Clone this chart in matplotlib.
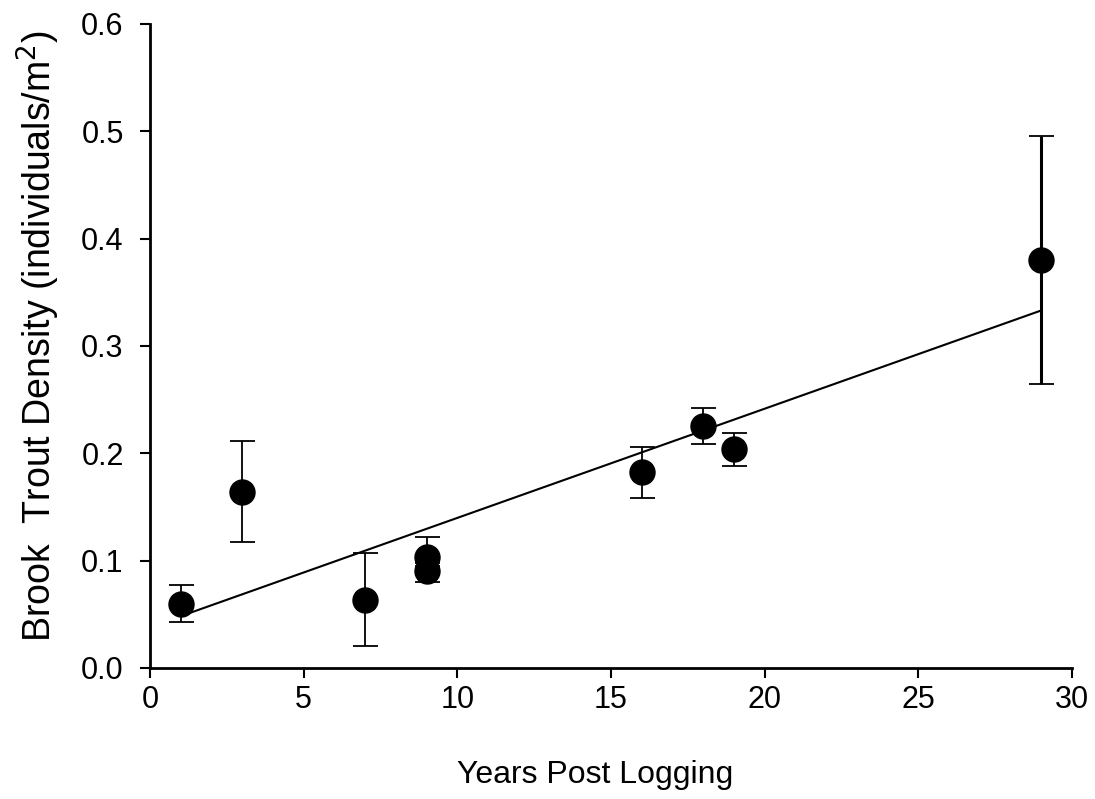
import numpy as np
import matplotlib.pyplot as plt

plt.rcParams['font.family'] = ['Liberation Sans', 'DejaVu Sans']

# Brook trout density vs years since logging
years = np.array([1, 3, 7, 9, 9, 16, 18, 19, 29])
density = np.array([0.060, 0.164, 0.063, 0.103, 0.090, 0.183, 0.225, 0.204, 0.380])
err_upper = np.array([0.077, 0.211, 0.107, 0.122, 0.098, 0.206, 0.242, 0.219, 0.496])
err_lower = np.array([0.043, 0.117, 0.020, 0.095, 0.080, 0.158, 0.209, 0.188, 0.265])

x_ticks = [0, 5, 10, 15, 20, 25, 30]
y_ticks = [0.0, 0.1, 0.2, 0.3, 0.4, 0.5, 0.6]

fig = plt.figure(figsize=(10.95, 7.99), dpi=100)
ax = fig.add_axes([0.137, 0.164, 0.842, 0.806])

# least squares fit drawn over the data range
slope, intercept = np.polyfit(years, density, 1)
xfit = np.array([years.min(), years.max()])
ax.plot(xfit, intercept + slope * xfit, color='black', lw=1.5, zorder=2)

yerr = [density - err_lower, err_upper - density]
eb = ax.errorbar(years, density, yerr=yerr, fmt='o', color='black', ms=18,
                 ecolor='black', elinewidth=1.3, capsize=9, capthick=1.3, zorder=3)
# the last bar is drawn heavier in the original
eb[2][0].set_linewidths([1.3] * (len(years) - 1) + [2.2])

ax.set_xlim(0, 30)
ax.set_ylim(0, 0.6)
ax.set_xticks(x_ticks)
ax.set_yticks(y_ticks)
ax.set_yticklabels(['%.1f' % v for v in y_ticks])

for s in ['top', 'right']:
    ax.spines[s].set_visible(False)
for s in ['left', 'bottom']:
    ax.spines[s].set_linewidth(2)
ax.tick_params(direction='out', length=7, width=1.5, labelsize=22)
ax.tick_params(axis='x', pad=5)
ax.tick_params(axis='y', pad=12)

ax.set_xlabel('Years Post Logging', fontsize=23, labelpad=33)
ax.xaxis.label.set_x(0.483)
ax.set_ylabel(r'Brook  Trout Density (individuals/m$^2$)', fontsize=27, labelpad=14)
ax.yaxis.label.set_y(0.515)

plt.savefig('out.png', dpi=100)
